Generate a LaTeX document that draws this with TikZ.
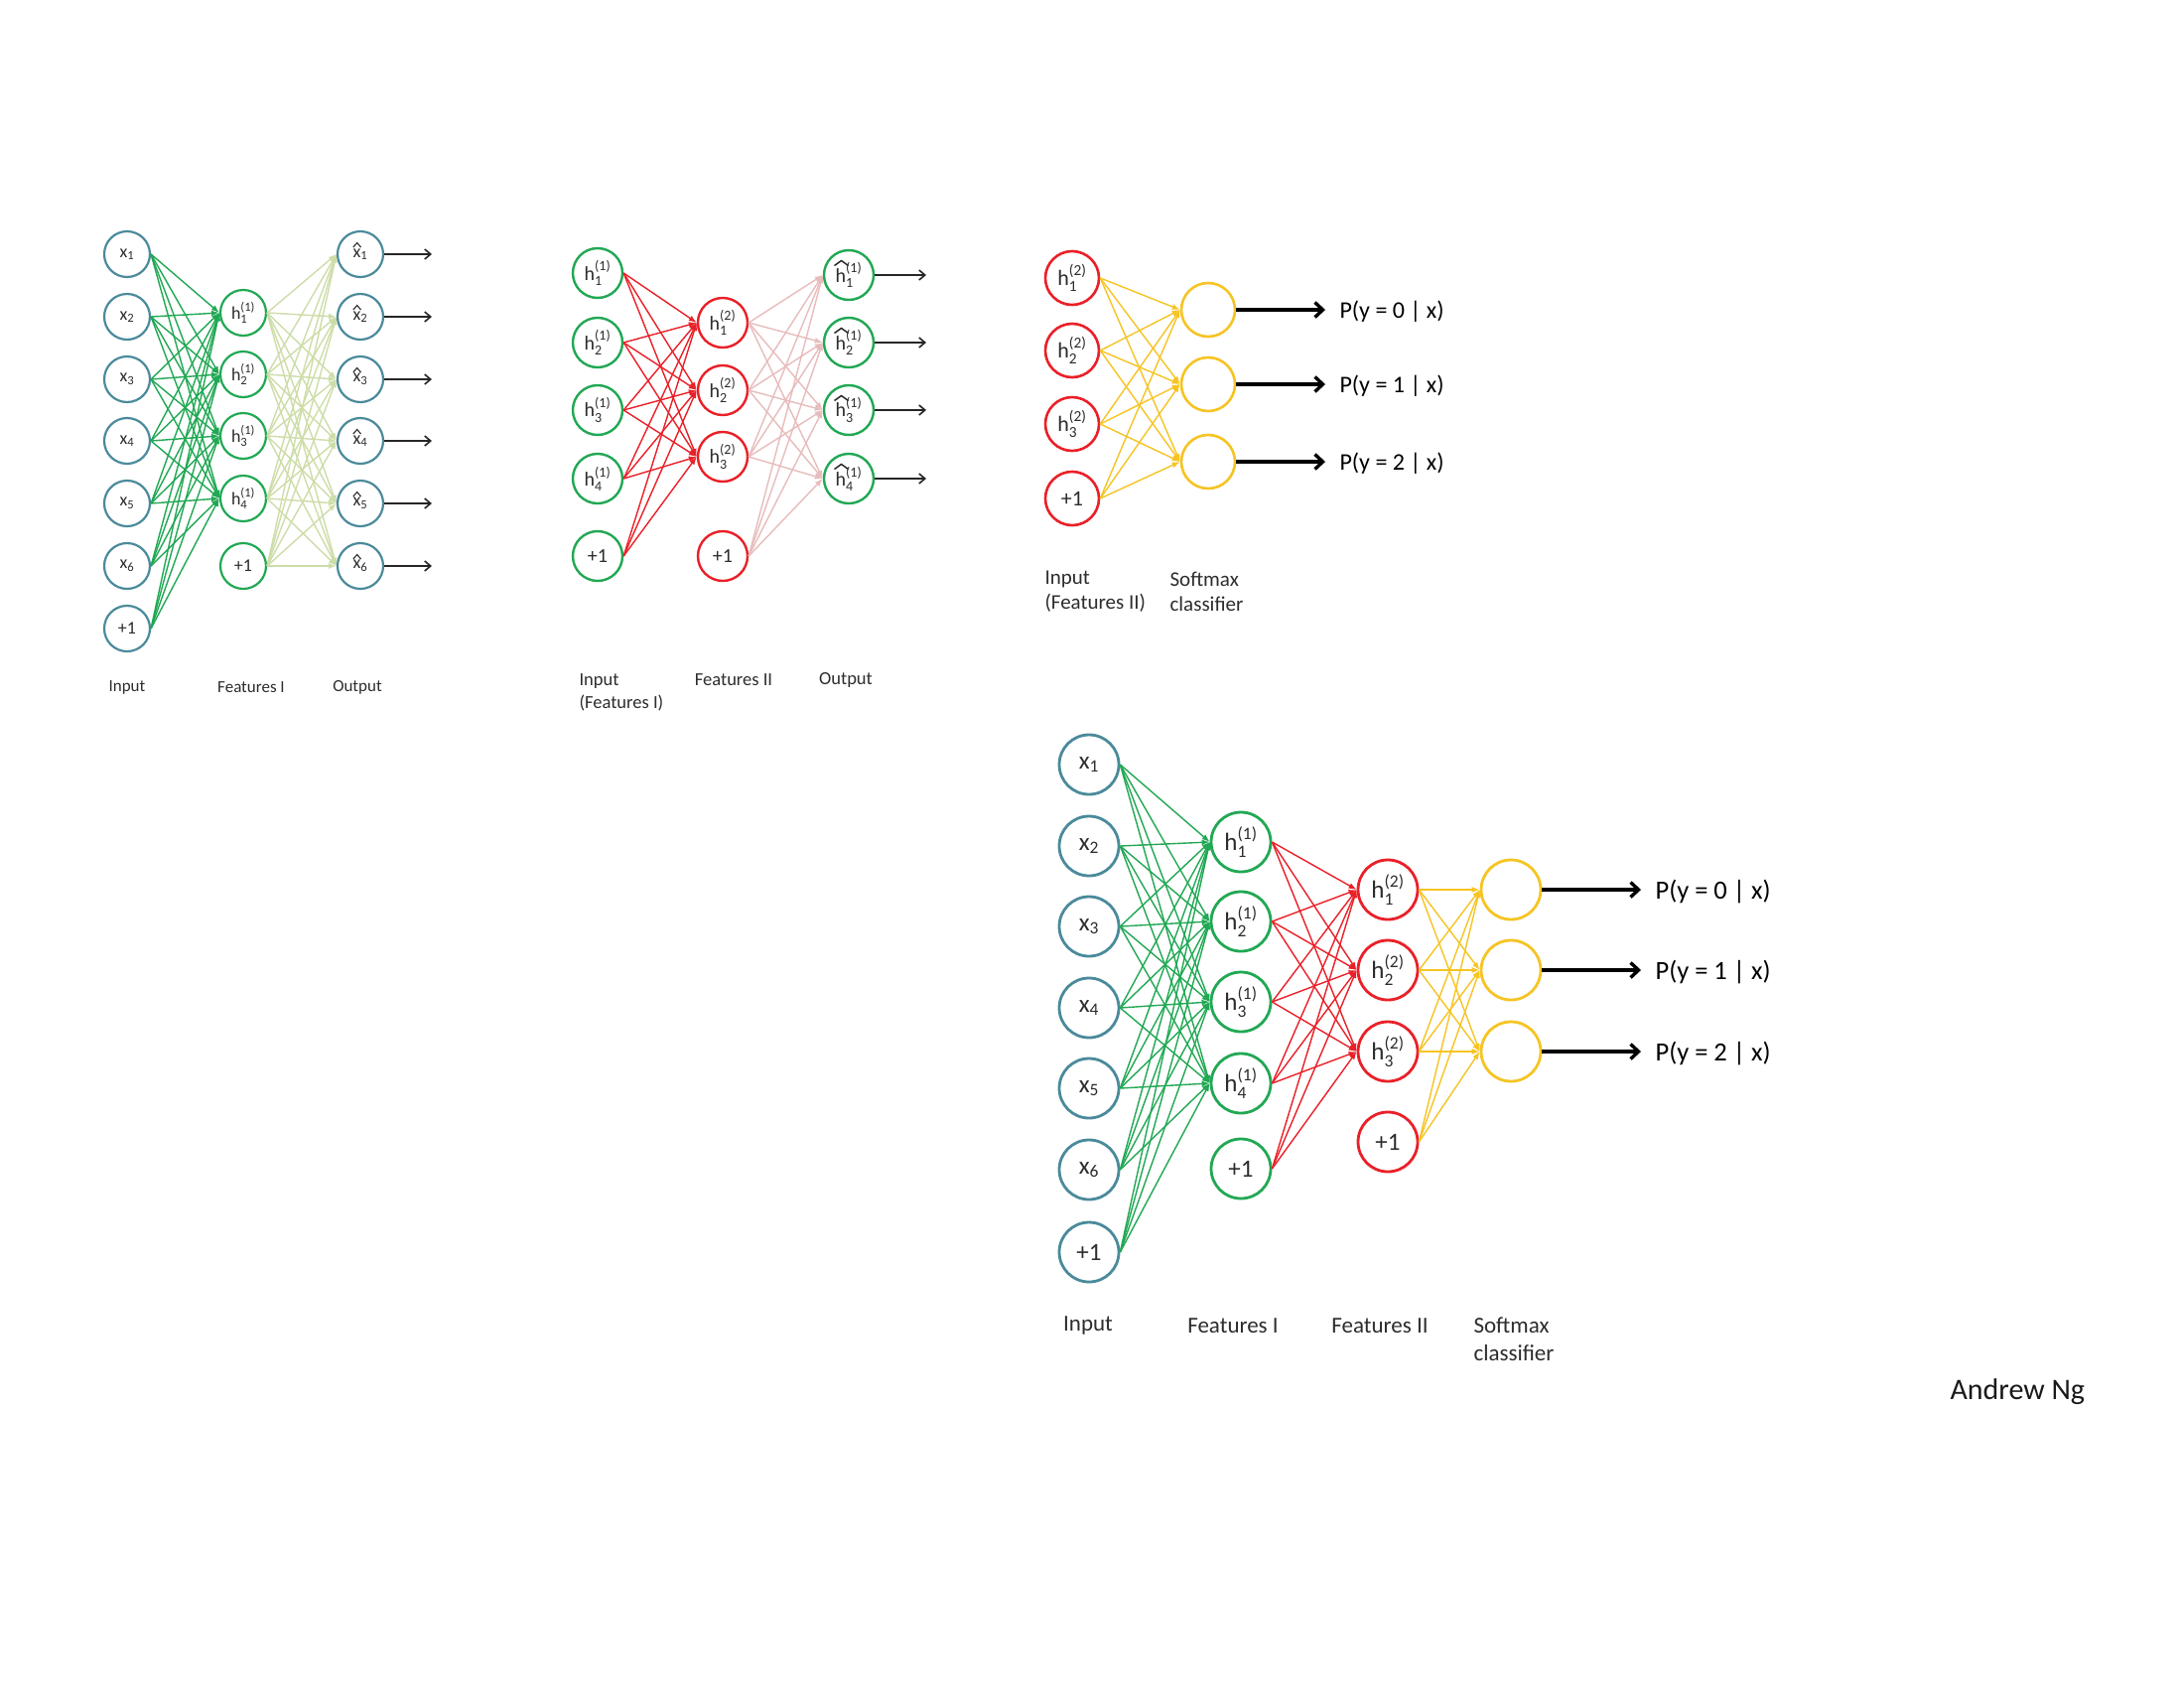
\documentclass[tikz,border=0pt]{standalone}
\usepackage{fontspec}
\setmainfont{Carlito}
\usepackage{amsmath}
\usetikzlibrary{arrows.meta}
\definecolor{tealc}{RGB}{74,138,155}
\definecolor{grn}{RGB}{33,168,84}
\definecolor{lgrn}{RGB}{205,221,168}
\definecolor{rd}{RGB}{234,32,40}
\definecolor{pnk}{RGB}{232,188,188}
\definecolor{yel}{RGB}{246,196,35}
\definecolor{txt}{RGB}{45,45,45}
\newcommand{\hx}[2]{$\text{h}^{\text{(#1)}}_{\text{#2}}$}
\newcommand{\xx}[1]{$\text{x}_{\text{#1}}$}
\tikzset{
  neu/.style={circle, draw, fill=white, minimum size=#1, inner sep=0pt, text=txt},
  na/.style={neu=46pt, line width=2.2pt, font=\fontsize{18}{18}\selectfont},
  nb/.style={neu=50pt, line width=2.4pt, font=\fontsize{20}{20}\selectfont},
  nc/.style={neu=54pt, line width=2.6pt, font=\fontsize{22}{22}\selectfont},
  nd/.style={neu=60pt, line width=2.8pt, font=\fontsize{25}{25}\selectfont},
  wedge/.style={line width=1.4pt, -{Latex[length=8pt,width=6pt]}},
  outthin/.style={line width=1.6pt, black!85, -{Straight Barb[length=6pt,width=10pt]}},
  outthick/.style={line width=3.4pt, black, -{Straight Barb[length=8pt,width=15pt]}},
  hatline/.style={draw=txt, line width=1.1pt, line join=miter},
  lbla/.style={text=txt, font=\fontsize{17}{21}\selectfont},
  lblb/.style={text=txt, font=\fontsize{18.5}{23}\selectfont, align=left},
  lblc/.style={text=txt, font=\fontsize{21}{25}\selectfont, align=left},
  lbld/.style={text=txt, font=\fontsize{23}{28}\selectfont, align=left},
  probc/.style={text=black, font=\fontsize{24}{24}\selectfont, anchor=west},
  probd/.style={text=black, font=\fontsize{26.5}{26.5}\selectfont, anchor=west},
}
\begin{document}
\begin{tikzpicture}[x=1pt,y=-1pt]
\useasboundingbox (0,0) rectangle (2200,1700);
\fill[white] (0,0) rectangle (2200,1700);

% ---------------- Panel 1 ----------------
\foreach \i/\y in {1/256,2/319,3/382,4/444,5/507,6/570}
  \node[na, draw=tealc] (a\i) at (128,\y) {\xx{\i}};
\node[na, draw=tealc] (a7) at (128,633) {+1};
\foreach \i/\y in {1/315,2/377,3/439,4/502}
  \node[na, draw=grn] (b\i) at (245,\y) {\hx{1}{\i}};
\node[na, draw=grn] (b5) at (245,570) {+1};
\foreach \i/\y in {1/256,2/319,3/382,4/444,5/507,6/570}{
  \node[na, draw=tealc] (c\i) at (363,\y) {\xx{\i}};
  \draw[hatline] (c\i.center) ++(-7.2,-7) -- ++(3.9,-4.5) -- ++(3.9,4.5);
  \coordinate (ce\i) at (435,\y);
}
\foreach \i in {1,...,7} \foreach \j in {1,...,4}
  \draw[wedge, grn] (a\i.east) -- (b\j.west);
\foreach \i in {1,...,5} \foreach \j in {1,...,6}
  \draw[wedge, lgrn] (b\i.east) -- (c\j.west);
\foreach \i in {1,...,6}
  \draw[outthin] (c\i.east) -- (ce\i);
\node[lbla] (la1) at (128,692) {Input};
\node[lbla] (la2) at (253,692) {Features I};
\node[lbla] (la3) at (360,692) {Output};

% ---------------- Panel 2 ----------------
\foreach \i/\y in {1/275,2/345,3/413,4/482}
  \node[nb, draw=grn] (d\i) at (602,\y) {\hx{1}{\i}};
\node[nb, draw=grn] (d5) at (602,560) {+1};
\foreach \i/\y in {1/325,2/393,3/460}
  \node[nb, draw=rd] (e\i) at (728,\y) {\hx{2}{\i}};
\node[nb, draw=rd] (e4) at (728,560) {+1};
\foreach \i/\y in {1/277,2/345,3/413,4/482}{
  \node[nb, draw=grn] (f\i) at (855,\y) {\hx{1}{\i}};
  \draw[hatline, line width=1.5pt] (f\i.center) ++(-14.5,-9.5) -- ++(7,-5) -- ++(7,5);
  \coordinate (fe\i) at (933,\y);
}
\foreach \i in {1,...,5} \foreach \j in {1,...,3}
  \draw[wedge, rd] (d\i.east) -- (e\j.west);
\foreach \i in {1,...,4} \foreach \j in {1,...,4}
  \draw[wedge, pnk] (e\i.east) -- (f\j.west);
\foreach \i in {1,...,4}
  \draw[outthin] (f\i.east) -- (fe\i);
\node[lblb, anchor=west] (lb1) at (580,697) {Input\\(Features I)};
\node[lblb] (lb2) at (739,685) {Features II};
\node[lblb] (lb3) at (852,685) {Output};

% ---------------- Panel 3 ----------------
\foreach \i/\y in {1/280,2/353,3/427}
  \node[nc, draw=rd] (g\i) at (1080,\y) {\hx{2}{\i}};
\node[nc, draw=rd] (g4) at (1080,502) {+1};
\foreach \i/\y in {1/312,2/387,3/465}{
  \node[nc, draw=yel] (s\i) at (1217,\y) {};
  \coordinate (se\i) at (1335,\y);
}
\foreach \i in {1,...,4} \foreach \j in {1,...,3}
  \draw[wedge, yel] (g\i.east) -- (s\j.west);
\foreach \i in {1,...,3}
  \draw[outthick] (s\i.east) -- (se\i);
\node[probc] (pc1) at (1346,314) {P(y = 0 | x)};
\node[probc] (pc2) at (1346,389) {P(y = 1 | x)};
\node[probc] (pc3) at (1346,467) {P(y = 2 | x)};
\node[lblc, anchor=west] (lc1) at (1049,596) {Input\\(Features II)};
\node[lblc, anchor=west] (lc2) at (1175,596) {Softmax\\classifier};

% ---------------- Panel 4 ----------------
\foreach \i/\y in {1/770,2/852,3/933,4/1015,5/1096,6/1178}
  \node[nd, draw=tealc] (p\i) at (1097,\y) {\xx{\i}};
\node[nd, draw=tealc] (p7) at (1097,1261) {+1};
\foreach \i/\y in {1/848,2/928,3/1009,4/1091}
  \node[nd, draw=grn] (q\i) at (1250,\y) {\hx{1}{\i}};
\node[nd, draw=grn] (q5) at (1250,1177) {+1};
\foreach \i/\y in {1/896,2/977,3/1059}
  \node[nd, draw=rd] (r\i) at (1398,\y) {\hx{2}{\i}};
\node[nd, draw=rd] (r4) at (1398,1150) {+1};
\foreach \i/\y in {1/896,2/977,3/1059}{
  \node[nd, draw=yel] (t\i) at (1522,\y) {};
  \coordinate (te\i) at (1653,\y);
}
\foreach \i in {1,...,7} \foreach \j in {1,...,4}
  \draw[wedge, grn] (p\i.east) -- (q\j.west);
\foreach \i in {1,...,5} \foreach \j in {1,...,3}
  \draw[wedge, rd] (q\i.east) -- (r\j.west);
\foreach \i in {1,...,4} \foreach \j in {1,...,3}
  \draw[wedge, yel] (r\i.east) -- (t\j.west);
\foreach \i in {1,...,3}
  \draw[outthick] (t\i.east) -- (te\i);
\node[probd] (pd1) at (1664,898) {P(y = 0 | x)};
\node[probd] (pd2) at (1664,979) {P(y = 1 | x)};
\node[probd] (pd3) at (1664,1061) {P(y = 2 | x)};
\node[lbld] (ld1) at (1096,1335) {Input};
\node[lbld] (ld2) at (1242,1335) {Features I};
\node[lbld] (ld3) at (1390,1335) {Features II};
\node[lbld, anchor=west] (ld4) at (1481,1349) {Softmax\\classifier};

\node[text=black!90, font=\fontsize{30}{30}\selectfont, anchor=west] (an) at (1961,1402) {Andrew Ng};
\end{tikzpicture}
\end{document}
